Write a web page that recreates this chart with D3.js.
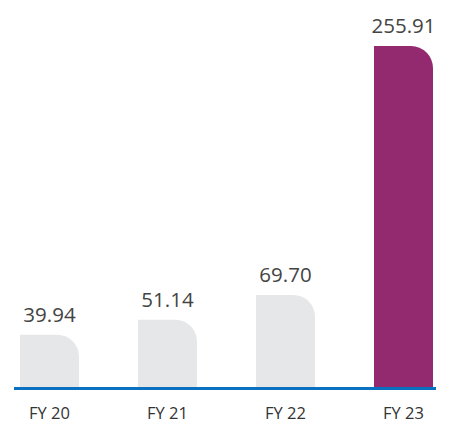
<!DOCTYPE html>
<html>
<head>
<meta charset="utf-8">
<script src="https://cdn.jsdelivr.net/npm/d3@7"></script>
<style>
  body { margin: 0; background: #fff; }
</style>
</head>
<body>
<div id="chart"></div>
<script>
const categories = ['FY 20', 'FY 21', 'FY 22', 'FY 23'];
const values = [39.94, 51.14, 69.70, 255.91];
const barColors = ['#e6e7e9', '#e6e7e9', '#e6e7e9', '#93296f'];

const chartWidth = 449;
const chartHeight = 424;
const baseY = 388;
const radius = 22;

const svg = d3.select('#chart').append('svg')
	.attr('width', chartWidth)
	.attr('height', chartHeight)
	.style('font-family', "'Open Sans', sans-serif");

const xScale = d3.scaleBand()
	.domain(categories)
	.range([20, 433])
	.paddingInner(0.5)
	.paddingOuter(0);

const yScale = d3.scaleLinear()
	.domain([0, 256])
	.range([baseY, 46]);

// bar with only the top right corner rounded
function barPath(d, i) {
	const x0 = xScale(categories[i]);
	const x1 = x0 + xScale.bandwidth();
	const y0 = yScale(d);
	const r = Math.min(radius, baseY - y0);
	return `M${x0},${baseY} L${x0},${y0} L${x1 - r},${y0} ` +
		`A${r},${r} 0 0 1 ${x1},${y0 + r} L${x1},${baseY} Z`;
}

svg.selectAll('.bar')
	.data(values)
	.enter()
	.append('path')
	.attr('class', 'bar')
	.attr('d', barPath)
	.attr('fill', (d, i) => barColors[i]);

svg.selectAll('.value')
	.data(values)
	.enter()
	.append('text')
	.attr('class', 'value')
	.attr('x', (d, i) => xScale(categories[i]) + xScale.bandwidth() / 2)
	.attr('y', d => yScale(d) - 13)
	.attr('text-anchor', 'middle')
	.style('font-size', '20.5px')
	.style('fill', '#444')
	.text(d => d.toFixed(2));

// baseline
svg.append('line')
	.attr('x1', 14)
	.attr('x2', 436)
	.attr('y1', baseY + 0.5)
	.attr('y2', baseY + 0.5)
	.style('stroke', '#0a70c0')
	.style('stroke-width', 3);

const xAxis = svg.append('g')
	.attr('transform', `translate(0, ${baseY})`)
	.call(d3.axisBottom(xScale).tickSize(0).tickPadding(19));

xAxis.select('.domain').remove();
xAxis.selectAll('text')
	.style('font-family', "'Open Sans', sans-serif")
	.style('font-size', '16.5px')
	.style('fill', '#333');
</script>
</body>
</html>
